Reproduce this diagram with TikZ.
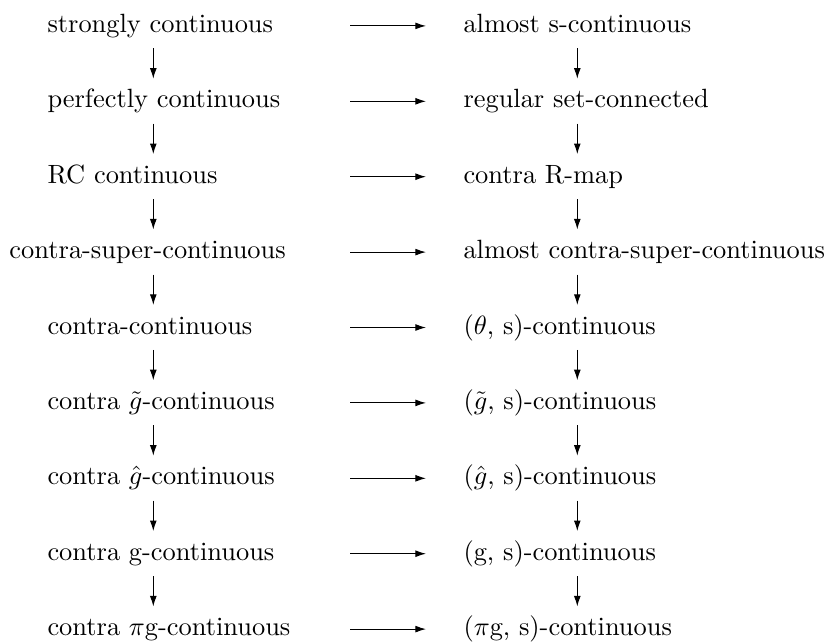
\documentclass[tikz,border=0pt]{standalone}
\usetikzlibrary{calc,arrows.meta}
\begin{document}
\begin{tikzpicture}[x=0.3788pt,y=-0.3788pt,
  lbl/.style={inner sep=0pt,outer sep=0pt,anchor=base west,font=\fontsize{10}{12}\selectfont},
  arr/.style={line width=0.4pt,-{Latex[length=4pt,width=2.6pt]}}]
\useasboundingbox (0,0) rectangle (830,643);
\coordinate (lv) at (153.3,0);
\coordinate (rv) at (577.3,0);
\coordinate (hs) at (350,0);
\coordinate (he) at (426,0);
\foreach \i/\lx/\lt/\rt in {
  1/47.5/strongly continuous/almost s-continuous,
  2/47.5/perfectly continuous/regular set-connected,
  3/47.5/RC continuous/contra R-map,
  4/9.5/contra-super-continuous/almost contra-super-continuous,
  5/47.5/contra-continuous/{($\theta$, s)-continuous},
  6/47.5/contra $\tilde{g}$-continuous/{($\tilde{g}$, s)-continuous},
  7/47.5/contra $\hat{g}$-continuous/{($\hat{g}$, s)-continuous},
  8/47.5/contra g-continuous/{(g, s)-continuous},
  9/47.5/contra $\pi$g-continuous/{($\pi$g, s)-continuous}}{
  \pgfmathsetmacro{\yy}{32.5+75.4*(\i-1)}
  \node[lbl] (L\i) at (\lx,\yy) {\lt};
  \node[lbl] (R\i) at (463.5,\yy) {\rt};
  \draw[arr] ($(L\i.base -| hs)+(0,-6.6)$) -- ($(L\i.base -| he)+(0,-6.6)$);
}
\foreach \i [evaluate=\i as \j using int(\i+1)] in {1,...,8}{
  \draw[arr] ($(L\i.base -| lv)+(0,15.8)$) -- ($(L\j.base -| lv)+(0,-29.2)$);
  \draw[arr] ($(R\i.base -| rv)+(0,15.8)$) -- ($(R\j.base -| rv)+(0,-29.2)$);
}
\end{tikzpicture}
\end{document}
